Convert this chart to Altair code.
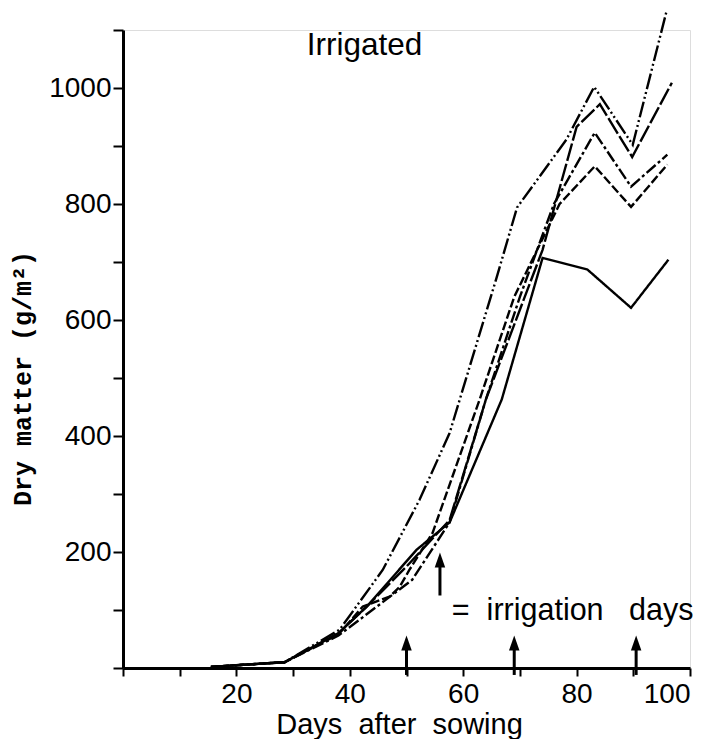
import altair as alt
import pandas as pd

# ---- data ----
days_A = [15.5, 28.5, 38.2, 45.8, 52.3, 57.6, 65.8, 69.5, 78.2, 83.1, 89.9, 95.8]
dm_A = [2, 10, 66, 169, 290, 405, 670, 794, 911, 1002, 902, 1130]

days_B = [15.5, 28.5, 38.0, 43.0, 50.0, 57.6, 64.0, 74.0, 80.0, 84.1, 89.8, 96.8]
dm_B = [2, 10, 60, 106, 175, 255, 463, 721, 933, 972, 881, 1009]

days_C = [15.5, 28.5, 38.0, 41.0, 51.0, 57.6, 64.0, 70.0, 76.0, 83.2, 89.6, 96.0]
dm_C = [2, 10, 56, 78, 152, 251, 463, 640, 800, 923, 830, 885]

days_D = [15.5, 28.5, 38.0, 42.3, 47.0, 48.8, 50.5, 54.6, 62.9, 69.0, 77.0, 83.2, 89.6, 96.0]
dm_D = [2, 10, 58, 106, 123, 140, 169, 233, 463, 640, 800, 865, 795, 868]

days_E = [15.5, 28.5, 38.0, 43.0, 51.8, 57.6, 66.8, 74.0, 81.9, 89.6, 96.2]
dm_E = [2, 10, 60, 106, 204, 251, 463, 707, 687, 621, 704]

series_names = ["A", "B", "C", "D", "E"]
series_dash = [[16, 3, 2, 3, 2, 3], [18, 3], [12, 3, 3, 3], [9, 3], [1, 0]]

irrigation_days = [50, 69, 90.5]
legend_arrow_day = [55.9]

x_ticks = list(range(0, 101, 10))
y_ticks = list(range(0, 1101, 100))

NB = "\u00a0"
title_text = "Irrigated"
legend_text = "=" + NB * 2 + "irrigation" + NB * 3 + "days"
x_title = "Days" + NB * 2 + "after" + NB * 2 + "sowing"
y_title = "Dry matter (g/m²)"

# ---- build tables ----
rows = []
for name, dd, vv in zip(series_names,
                        [days_A, days_B, days_C, days_D, days_E],
                        [dm_A, dm_B, dm_C, dm_D, dm_E]):
    for i, (d, v) in enumerate(zip(dd, vv)):
        rows.append({"series": name, "day": d, "dm": v, "order": i})
df = pd.DataFrame(rows)

arrows = pd.DataFrame({"day": irrigation_days,
                       "lo": [-12] * len(irrigation_days),
                       "hi": [35] * len(irrigation_days),
                       "head": [43] * len(irrigation_days)})
leg_arrow = pd.DataFrame({"day": legend_arrow_day, "lo": [125], "hi": [178], "head": [186]})

FONT = "Liberation Sans, Arial, Helvetica, sans-serif"

x_enc = alt.X(
    "day:Q",
    scale=alt.Scale(domain=[0, 100], nice=False),
    axis=alt.Axis(
        values=x_ticks, format="d",
        labelExpr="datum.value % 20 == 0 && datum.value > 0 ? datum.label : ''",
        title=x_title,
        grid=False, tickSize=8, tickWidth=2, tickColor="black",
        domainWidth=3, domainColor="black",
        labelFontSize=28, labelFont=FONT, labelColor="black", labelPadding=4,
        labelFlush=True, labelOverlap=False,
        titleFont=FONT, titleFontSize=29, titleFontWeight="normal", titleColor="black",
        titleX=276, titleY=65, titleAlign="center", titleBaseline="alphabetic",
    ),
)
y_enc = alt.Y(
    "dm:Q",
    scale=alt.Scale(domain=[0, 1100], nice=False),
    axis=alt.Axis(
        values=y_ticks, format="d",
        labelExpr="datum.value % 200 == 0 && datum.value > 0 ? datum.label : ''",
        title=y_title,
        grid=False, tickSize=10, tickWidth=2, tickColor="black",
        domainWidth=3, domainColor="black",
        labelFontSize=28, labelFont=FONT, labelColor="black", labelPadding=2,
        labelFlush=False, labelOverlap=False,
        titleFont="Liberation Mono, DejaVu Sans Mono, monospace", titleFontSize=25,
        titleFontWeight="bold", titleColor="black",
        titleX=-101, titleY=348, titleAngle=270, titleAlign="center", titleBaseline="middle",
    ),
)

lines = alt.Chart(df).mark_line(color="black", strokeWidth=2.4).encode(
    x=x_enc,
    y=y_enc,
    detail="series:N",
    order="order:Q",
    strokeDash=alt.StrokeDash("series:N", scale=alt.Scale(domain=series_names, range=series_dash), legend=None),
)

HEAD = "M0,-1L0.7,1L-0.7,1Z"
shafts = alt.Chart(arrows).mark_rule(color="black", strokeWidth=3).encode(
    x="day:Q", y="lo:Q", y2="hi:Q")
heads = alt.Chart(arrows).mark_point(
    shape=HEAD, filled=True, color="black", opacity=1, size=225
).encode(x="day:Q", y="head:Q")

leg_shaft = alt.Chart(leg_arrow).mark_rule(color="black", strokeWidth=3).encode(
    x="day:Q", y="lo:Q", y2="hi:Q")
leg_head = alt.Chart(leg_arrow).mark_point(
    shape=HEAD, filled=True, color="black", opacity=1, size=225
).encode(x="day:Q", y="head:Q")

title_df = pd.DataFrame({"day": [32.4], "dm": [1057], "label": [title_text]})
title_layer = alt.Chart(title_df).mark_text(
    align="left", baseline="alphabetic", fontSize=31.5, font=FONT, color="black"
).encode(x="day:Q", y="dm:Q", text="label:N")

legend_df = pd.DataFrame({"day": [58.0], "dm": [83], "label": [legend_text]})
legend_layer = alt.Chart(legend_df).mark_text(
    align="left", baseline="alphabetic", fontSize=30.5, font=FONT, color="black"
).encode(x="day:Q", y="dm:Q", text="label:N")

chart = alt.layer(lines, shafts, heads, leg_shaft, leg_head, title_layer, legend_layer).properties(
    width=567, height=638,
    autosize=alt.AutoSizeParams(type="none"),
    padding={"left": 115, "top": 22, "right": 4, "bottom": 71},
).configure_view(stroke=None).configure(background="white")

chart.save("out.html", embed_options={"renderer": "svg", "actions": False})
